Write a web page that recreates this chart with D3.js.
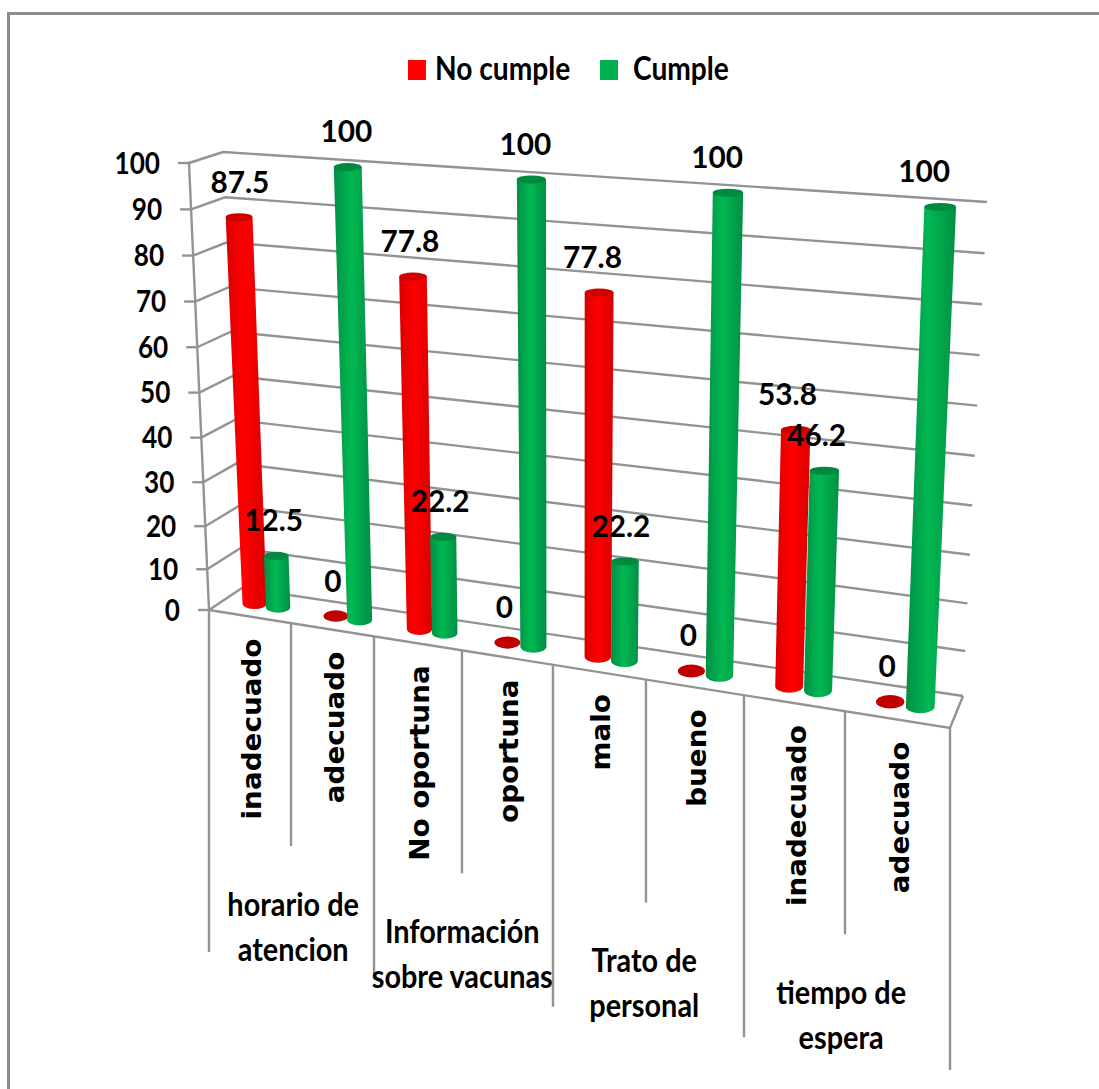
<!DOCTYPE html>
<html>
<head>
<meta charset="utf-8">
<script src="https://d3js.org/d3.v7.min.js"></script>
<style>
html,body{margin:0;padding:0;background:#fff;}
svg{display:block;}
text{fill:#000;}
</style>
</head>
<body>
<svg id="chart" width="1099" height="1089"></svg>
<script>
// Survey results: share of cases per rating, grouped by service aspect.
const groups = ["horario de|atencion", "Información|sobre vacunas", "Trato de|personal", "tiempo de|espera"];
const categories = ["inadecuado", "adecuado", "No oportuna", "oportuna", "malo", "bueno", "inadecuado", "adecuado"];
const noCumple = [87.5, 0, 77.8, 0, 77.8, 0, 53.8, 0];
const cumple = [12.5, 100, 22.2, 100, 22.2, 100, 46.2, 100];
const valueTicks = d3.range(0, 101, 10);

const svg = d3.select("#chart");
const GRID = "#939393";
const FONT = "Lato, sans-serif";

// Box corners of the 3D plot area on screen: [front, back] at value 0 and value 100.
const corners = {
  leftLow: [[209, 610], [242, 588]],
  rightLow: [[950, 728], [963, 696]],
  leftHigh: [[189, 163], [223, 152]],
  rightHigh: [[970, 217], [987, 202]]
};

// Category position along the floor; perspective widens the slots to the right.
const uScale = d3.scaleLinear()
  .domain(d3.range(0, 9))
  .range([0, .1107, .2227, .3414, .4642, .5897, .7220, .8583, 1]);
// Value to normalised height, slightly compressed near the floor.
const vScale = d3.scalePow().exponent(1.04).domain([0, 100]).range([0, 1]);

const mix = (a, b, t) => [a[0] + (b[0] - a[0]) * t, a[1] + (b[1] - a[1]) * t];
// Projects slot position, depth and value to a screen point.
function project(slot, depth, value) {
  const u = uScale(slot), v = vScale(value);
  const low = mix(mix(corners.leftLow[0], corners.rightLow[0], u), mix(corners.leftLow[1], corners.rightLow[1], u), depth);
  const high = mix(mix(corners.leftHigh[0], corners.rightHigh[0], u), mix(corners.leftHigh[1], corners.rightHigh[1], u), depth);
  return mix(low, high, v);
}

// Places a label with a tall, condensed letter shape.
function place(sel, x, y, stretch) {
  return sel.attr("transform", `translate(${x},${y}) scale(${stretch},1)`)
    .attr("dominant-baseline", "middle");
}

// Frame: only the top and left edges show
svg.append("path").attr("d", "M8.5,1089 V13.5 H1099")
  .attr("fill", "none").attr("stroke", "#8c8c8c").attr("stroke-width", 3);

// Gradients for the cylinders
const defs = svg.append("defs");
function tube(id, edge, mid) {
  const g = defs.append("linearGradient").attr("id", id);
  g.append("stop").attr("offset", "0%").attr("stop-color", edge);
  g.append("stop").attr("offset", "45%").attr("stop-color", mid);
  g.append("stop").attr("offset", "100%").attr("stop-color", edge);
}
tube("redTube", "#d80000", "#ff0000");
tube("greenTube", "#008f45", "#00b852");

const line = d3.line();
const gridLayer = svg.append("g").attr("fill", "none").attr("stroke", GRID).attr("stroke-width", 2.4);

// Grid lines run along the side wall and across the back wall
gridLayer.selectAll("path.grid").data(valueTicks).join("path")
  .attr("class", "grid")
  .attr("d", d => line([project(0, 0, d), project(0, 1, d), project(8, 1, d)]));
// Value axis and its tick marks
gridLayer.append("path").attr("d", line(valueTicks.map(d => project(0, 0, d))));
gridLayer.selectAll("path.tick").data(valueTicks).join("path")
  .attr("class", "tick")
  .attr("d", d => { const p = project(0, 0, d); return line([[p[0] - 11, p[1]], p]); });
// Floor outline
gridLayer.append("path").attr("d", line([project(0, 0, 0), project(8, 0, 0), project(8, 1, 0)]));

// Category dividers below the floor; group boundaries hang lower
gridLayer.selectAll("path.divider").data(d3.range(0, 9)).join("path")
  .attr("class", "divider")
  .attr("d", s => { const p = project(s, 0, 0); return line([p, [p[0], p[1] + (s % 2 ? 223 : 342)]]); });

// Value axis labels
svg.append("g").selectAll("text").data(valueTicks).join("text")
  .attr("text-anchor", "end")
  .attr("font-family", FONT).attr("font-weight", 700).attr("font-size", 30)
  .text(d => d)
  .each(function (d) {
    const p = project(0, 0, d);
    place(d3.select(this), p[0] - 29, p[1] + 3, .87);
  });

// Cylinders: one pair per category
const barWidth = d3.scaleLinear().domain([0, 1]).range([24, 29]);
const seriesList = [
  { values: noCumple, offset: .36, fill: "url(#redTube)", cap: "#d00000", flat: "#c00000" },
  { values: cumple, offset: .65, fill: "url(#greenTube)", cap: "#008a40", flat: "#008a40" }
];
const barLayer = svg.append("g");
categories.forEach((c, i) => {
  seriesList.forEach(s => {
    const value = s.values[i], slot = i + s.offset;
    const base = project(slot, .5, 0), top = project(slot, .5, value);
    const u = uScale(slot), r = barWidth(u) / 2, rTop = r + 1.5 * vScale(value);
    const ry = 5.5 + u * 1.5;
    if (value === 0) {
      barLayer.append("ellipse").attr("cx", base[0]).attr("cy", base[1])
        .attr("rx", r).attr("ry", ry).attr("fill", s.flat);
      return;
    }
    barLayer.append("path")
      .attr("fill", s.fill)
      .attr("d", `M${top[0] - rTop},${top[1]} L${base[0] - r},${base[1]}`
        + ` A${r},${ry} 0 0 0 ${base[0] + r},${base[1]}`
        + ` L${top[0] + rTop},${top[1]} Z`);
    barLayer.append("ellipse").attr("cx", top[0]).attr("cy", top[1])
      .attr("rx", rTop).attr("ry", 4).attr("fill", s.cap);
  });
});

// Value labels sit above each cylinder and lean with the view towards the right
const labelLayer = svg.append("g")
  .attr("font-family", FONT).attr("font-weight", 700).attr("font-size", 31).attr("text-anchor", "middle");
categories.forEach((c, i) => {
  seriesList.forEach(s => {
    const value = s.values[i], slot = i + s.offset, top = project(slot, .5, value);
    const lean = value / 100 * (5 - 19 * uScale(slot));
    place(labelLayer.append("text").text(value), top[0] - 3 + lean, top[1] - 32.5, .96);
  });
});

// Rotated category labels below the floor edge
const catLayer = svg.append("g")
  .attr("font-family", "'DejaVu Sans', sans-serif").attr("font-weight", 700).attr("font-size", 26);
categories.forEach((c, i) => {
  const p = project(i + .5, 0, 0);
  catLayer.append("text")
    .attr("transform", `translate(${p[0] + 11},${p[1] + 22}) rotate(-90) scale(1.07,1)`)
    .attr("text-anchor", "end")
    .text(c);
});

// Group labels under the long dividers, drifting left with the view
const groupLayer = svg.append("g")
  .attr("font-family", FONT).attr("font-weight", 700).attr("font-size", 33).attr("text-anchor", "middle");
groups.forEach((g, i) => {
  const slot = i * 2 + 1, p = project(slot, 0, 0);
  g.split("|").forEach((part, k) => {
    place(groupLayer.append("text").text(part), p[0] + 3 - 8 * uScale(slot), p[1] + 284 + k * 45, .875);
  });
});

// Legend
const legendItems = [["No cumple", "#ff0000", 408], ["Cumple", "#00b050", 600]];
const legend = svg.append("g");
legendItems.forEach(([name, color, x]) => {
  legend.append("rect").attr("x", x).attr("y", 60).attr("width", 18).attr("height", 20).attr("fill", color);
  const label = legend.append("text")
    .attr("font-family", FONT).attr("font-weight", 700).attr("font-size", 32)
    .text(name);
  place(label, x + (name === "Cumple" ? 33 : 27), 72, .88);
});
</script>
</body>
</html>
